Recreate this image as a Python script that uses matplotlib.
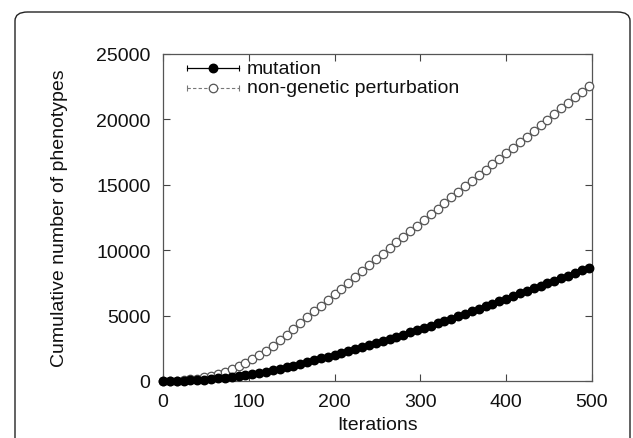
import matplotlib
matplotlib.use("Agg")
import matplotlib.pyplot as plt
from matplotlib.patches import FancyBboxPatch

plt.rcParams['font.family'] = ['Liberation Sans', 'DejaVu Sans']

iterations = list(range(0, 497, 8))
mutation = [0, 4, 12, 26, 46, 75, 110, 152, 200, 255, 315, 380, 447, 525, 615,
            712, 825, 942, 1062, 1185, 1312, 1448, 1584, 1722, 1862, 2005, 2153,
            2300, 2450, 2603, 2760, 2915, 3072, 3230, 3390, 3552, 3715, 3880,
            4045, 4220, 4400, 4585, 4770, 4958, 5148, 5340, 5532, 5725, 5918,
            6110, 6305, 6498, 6690, 6885, 7080, 7275, 7470, 7665, 7860, 8060,
            8260, 8460, 8660]
nongenetic = [0, 7, 30, 65, 118, 190, 285, 405, 550, 715, 900, 1125, 1370, 1650,
              1965, 2300, 2680, 3100, 3545, 4000, 4440, 4880, 5320, 5755, 6190,
              6620, 7060, 7500, 7945, 8390, 8840, 9290, 9725, 10155, 10590, 11020,
              11450, 11885, 12315, 12750, 13180, 13610, 14045, 14475, 14905, 15320,
              15735, 16150, 16570, 16985, 17400, 17830, 18260, 18690, 19120, 19550,
              19980, 20410, 20840, 21270, 21700, 22130, 22560]
xticks = [0, 100, 200, 300, 400, 500]
yticks = [0, 5000, 10000, 15000, 20000, 25000]
labels = ["mutation", "non-genetic perturbation"]

FS = 14

fig = plt.figure(figsize=(6.33, 4.39), dpi=100)
# rounded frame around the figure
frame = FancyBboxPatch((15/633, -0.05), (630-15)/633, (439-13)/439 + 0.05,
                       boxstyle="round,pad=0,rounding_size=0.02",
                       transform=fig.transFigure, fill=False,
                       edgecolor='#222222', linewidth=1.0)
fig.patches.append(frame)

ax = fig.add_axes([163/633, 1-382/439, (592-163)/633, (382-55)/439])

MS = 6.1
ax.plot(iterations, nongenetic, linestyle=(0, (3, 2)), color='#777777', lw=0.8,
        marker='o', markersize=MS, markerfacecolor='white',
        markeredgecolor='#555555', markeredgewidth=0.9, clip_on=False, zorder=3)
ax.plot(iterations, mutation, linestyle='-', color='black', lw=1.0,
        marker='o', markersize=MS, markerfacecolor='black',
        markeredgecolor='black', clip_on=False, zorder=4)

ax.set_xlim(0, 500)
ax.set_ylim(0, 25000)
ax.set_xticks(xticks)
ax.set_yticks(yticks)
ax.tick_params(direction='in', top=True, right=True, length=5, width=0.8,
               color='#444444', labelsize=FS, labelcolor='#111111', pad=9)
for s in ax.spines.values():
    s.set_color('#555555')
    s.set_linewidth(0.9)

ax.set_xlabel("Iterations", fontsize=FS, color='#111111', labelpad=4)
ax.set_ylabel("Cumulative number of phenotypes", fontsize=FS, color='#111111', labelpad=20)

# gnuplot-style legend
tr = ax.transAxes
x0, x1, xm, xt = 0.056, 0.177, 0.117, 0.196
rows = [0.956, 0.897]
# mutation
ax.plot([x0, x1], [rows[0]]*2, color='black', lw=0.9, transform=tr, clip_on=False)
ax.plot([x0, x1], [rows[0]]*2, linestyle='none', marker='|', markersize=5,
        color='black', markeredgewidth=0.8, transform=tr, clip_on=False)
ax.plot([xm], [rows[0]], marker='o', markersize=MS, color='black', transform=tr,
        clip_on=False)
ax.text(xt, rows[0], labels[0], transform=tr, fontsize=FS, va='center',
        ha='left', color='#111111')
# non-genetic
ax.plot([x0, x1], [rows[1]]*2, color='#777777', lw=0.8, linestyle=(0, (3, 2)),
        transform=tr, clip_on=False)
ax.plot([x0, x1], [rows[1]]*2, linestyle='none', marker='|', markersize=5,
        color='#777777', markeredgewidth=0.8, transform=tr, clip_on=False)
ax.plot([xm], [rows[1]], marker='o', markersize=MS, markerfacecolor='white',
        markeredgecolor='#555555', markeredgewidth=0.9, transform=tr, clip_on=False)
ax.text(xt, rows[1], labels[1], transform=tr, fontsize=FS, va='center',
        ha='left', color='#111111')

fig.savefig("out.png", dpi=100)
